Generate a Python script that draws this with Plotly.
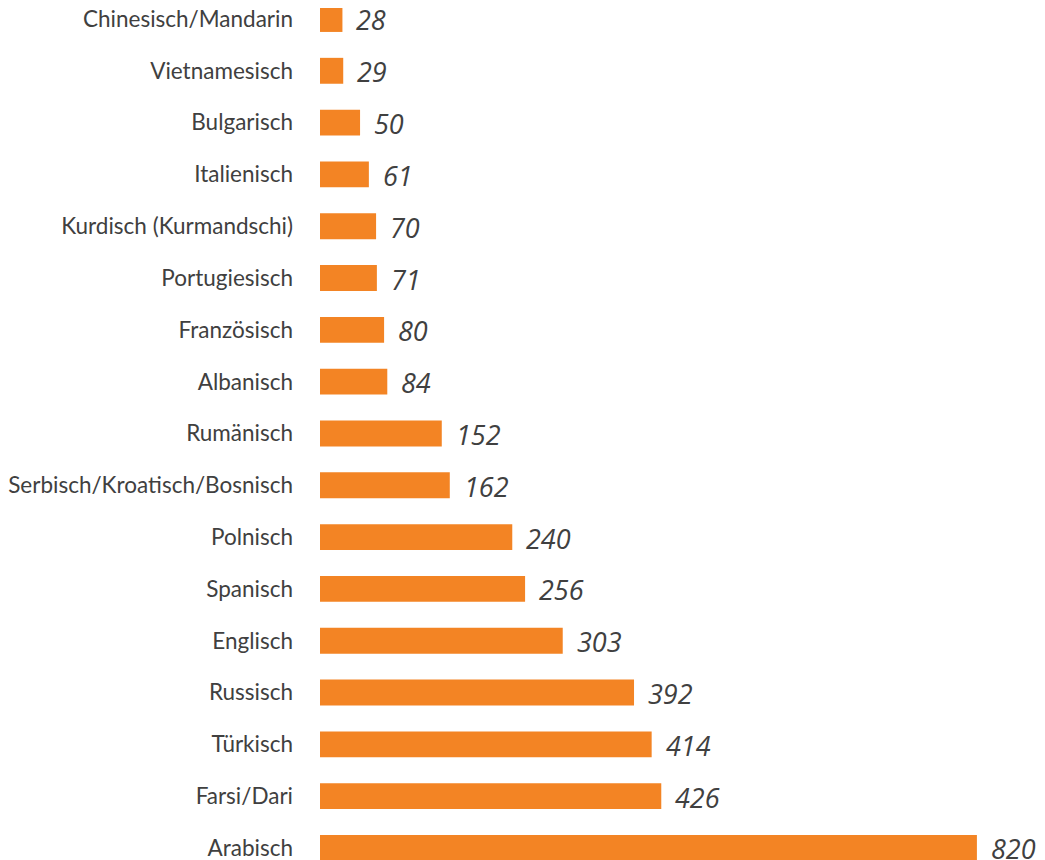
import plotly.graph_objects as go

categories = ["Chinesisch/Mandarin", "Vietnamesisch", "Bulgarisch", "Italienisch",
              "Kurdisch (Kurmandschi)", "Portugiesisch", "Französisch", "Albanisch",
              "Rumänisch", "Serbisch/Kroatisch/Bosnisch", "Polnisch", "Spanisch",
              "Englisch", "Russisch", "Türkisch", "Farsi/Dari", "Arabisch"]
values = [28, 29, 50, 61, 70, 71, 80, 84, 152, 162, 240, 256, 303, 392, 414, 426, 820]

BAR_COLOR = "#F38424"
TEXT_COLOR = "#404040"

fig = go.Figure(go.Bar(
    x=values, y=categories, orientation="h",
    marker=dict(color=BAR_COLOR, line=dict(width=0)),
    width=0.5, hoverinfo="skip",
))

for c, v in zip(categories, values):
    fig.add_annotation(x=v, y=c, text=str(v), showarrow=False, xanchor="left",
                       yanchor="middle", xshift=12, yshift=-1,
                       font=dict(family="Open Sans", size=27, color=TEXT_COLOR,
                                 style="italic"))

fig.update_layout(
    width=1037, height=852,
    margin=dict(l=312, r=0, t=0, b=0),
    paper_bgcolor="white", plot_bgcolor="white",
    showlegend=False,
    xaxis=dict(range=[0, 905], visible=False, fixedrange=True),
    yaxis=dict(type="category", categoryorder="array", categoryarray=categories,
               range=[16.232, -0.212], showgrid=False, zeroline=False,
               showline=False, ticks="", ticklabelstandoff=26, automargin=False,
               tickfont=dict(family="Lato", size=22.5, color=TEXT_COLOR)),
)

fig.write_html("out.html")
